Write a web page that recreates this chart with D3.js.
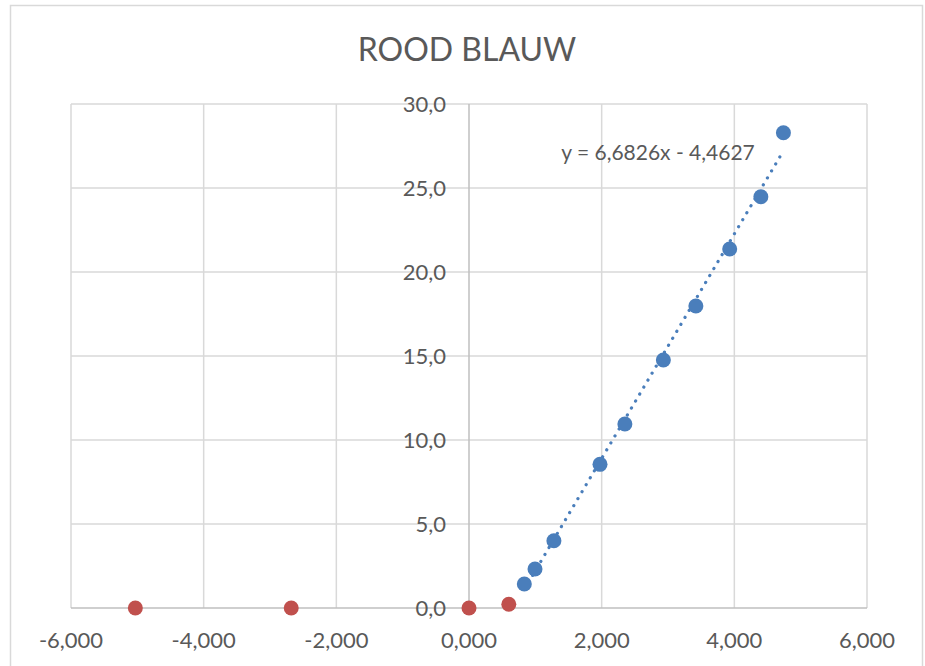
<!DOCTYPE html>
<html>
<head>
<meta charset="utf-8">
<script src="https://cdn.jsdelivr.net/npm/d3@7"></script>
<style>
  html, body { margin: 0; padding: 0; background: #ffffff; }
  svg { display: block; }
</style>
</head>
<body>
<svg id="chart" width="925" height="666"></svg>
<script>
const chartTitle = "ROOD BLAUW";
const redX = [-5.03, -2.68, 0.0, 0.60];
const redY = [0.0, 0.0, 0.0, 0.22];
const blueX = [0.834, 0.995, 1.28, 1.975, 2.35, 2.93, 3.42, 3.93, 4.40, 4.74];
const blueY = [1.43, 2.32, 4.0, 8.55, 10.95, 14.76, 17.98, 21.37, 24.48, 28.29];
const trendSlope = 6.6826;
const trendIntercept = -4.4627;
const trendLabel = "y = 6,6826x - 4,4627";
const xTicks = [-6, -4, -2, 0, 2, 4, 6];
const yTicks = [0, 5, 10, 15, 20, 25, 30];

const fmtX = v => d3.format(".3f")(v).replace("−", "-").replace(".", ",");
const fmtY = v => d3.format(".1f")(v).replace(".", ",");

const svg = d3.select("#chart");
const font = "Lato, 'Open Sans', sans-serif";
const textColor = "#595959";
const gridColor = "#d9d9d9";
const axisColor = "#bfbfbf";

// outer chart border
svg.append("rect")
  .attr("x", 10.5).attr("y", 5.5)
  .attr("width", 912).attr("height", 700)
  .attr("fill", "#ffffff")
  .attr("stroke", gridColor).attr("stroke-width", 1.5);

const pLeft = 71, pRight = 867, pTop = 104, pBottom = 608;
const x = d3.scaleLinear().domain([-6, 6]).range([pLeft, pRight]);
const y = d3.scaleLinear().domain([0, 30]).range([pBottom, pTop]);

// title
svg.append("text")
  .attr("x", 467).attr("y", 61)
  .attr("text-anchor", "middle")
  .attr("font-family", font).attr("font-size", 32)
  .attr("fill", textColor)
  .text(chartTitle);

// gridlines
const grid = svg.append("g");
grid.selectAll("line.vx").data(xTicks.filter(t => t !== 0)).join("line")
  .attr("x1", d => x(d)).attr("x2", d => x(d))
  .attr("y1", pTop).attr("y2", pBottom)
  .attr("stroke", gridColor).attr("stroke-width", 1.5);
grid.selectAll("line.hy").data(yTicks.filter(t => t !== 0)).join("line")
  .attr("y1", d => y(d)).attr("y2", d => y(d))
  .attr("x1", pLeft).attr("x2", pRight)
  .attr("stroke", gridColor).attr("stroke-width", 1.5);

// axes lines
svg.append("line")
  .attr("x1", pLeft).attr("x2", pRight)
  .attr("y1", y(0)).attr("y2", y(0))
  .attr("stroke", axisColor).attr("stroke-width", 1.5);
svg.append("line")
  .attr("x1", x(0)).attr("x2", x(0))
  .attr("y1", pTop).attr("y2", pBottom)
  .attr("stroke", axisColor).attr("stroke-width", 1.5);

// x tick labels
svg.append("g").selectAll("text").data(xTicks).join("text")
  .attr("x", d => x(d)).attr("y", 648)
  .attr("text-anchor", "middle")
  .attr("font-family", font).attr("font-size", 22)
  .attr("fill", textColor)
  .text(d => fmtX(d));

// y tick labels
svg.append("g").selectAll("text").data(yTicks).join("text")
  .attr("x", x(0) - 23).attr("y", d => y(d))
  .attr("dy", "0.36em")
  .attr("text-anchor", "end")
  .attr("font-family", font).attr("font-size", 22)
  .attr("fill", textColor)
  .text(d => fmtY(d));

// trendline
const tx0 = d3.min(blueX), tx1 = d3.max(blueX);
svg.append("line")
  .attr("x1", x(tx0)).attr("y1", y(trendSlope * tx0 + trendIntercept))
  .attr("x2", x(tx1)).attr("y2", y(trendSlope * tx1 + trendIntercept))
  .attr("stroke", "#4a7ebb").attr("stroke-width", 3.2)
  .attr("stroke-linecap", "round")
  .attr("stroke-dasharray", "0.1 8");

// red points
const red = redX.map((v, i) => ({x: v, y: redY[i]}));
svg.append("g").selectAll("circle").data(red).join("circle")
  .attr("cx", d => x(d.x)).attr("cy", d => y(d.y)).attr("r", 7.5)
  .attr("fill", "#c0504d");

// blue points
const blue = blueX.map((v, i) => ({x: v, y: blueY[i]}));
svg.append("g").selectAll("circle").data(blue).join("circle")
  .attr("cx", d => x(d.x)).attr("cy", d => y(d.y)).attr("r", 7.5)
  .attr("fill", "#4a7ebb");

// trend label
svg.append("text")
  .attr("x", 658).attr("y", 160)
  .attr("text-anchor", "middle")
  .attr("font-family", font).attr("font-size", 21)
  .attr("fill", textColor)
  .text(trendLabel);
</script>
</body>
</html>
